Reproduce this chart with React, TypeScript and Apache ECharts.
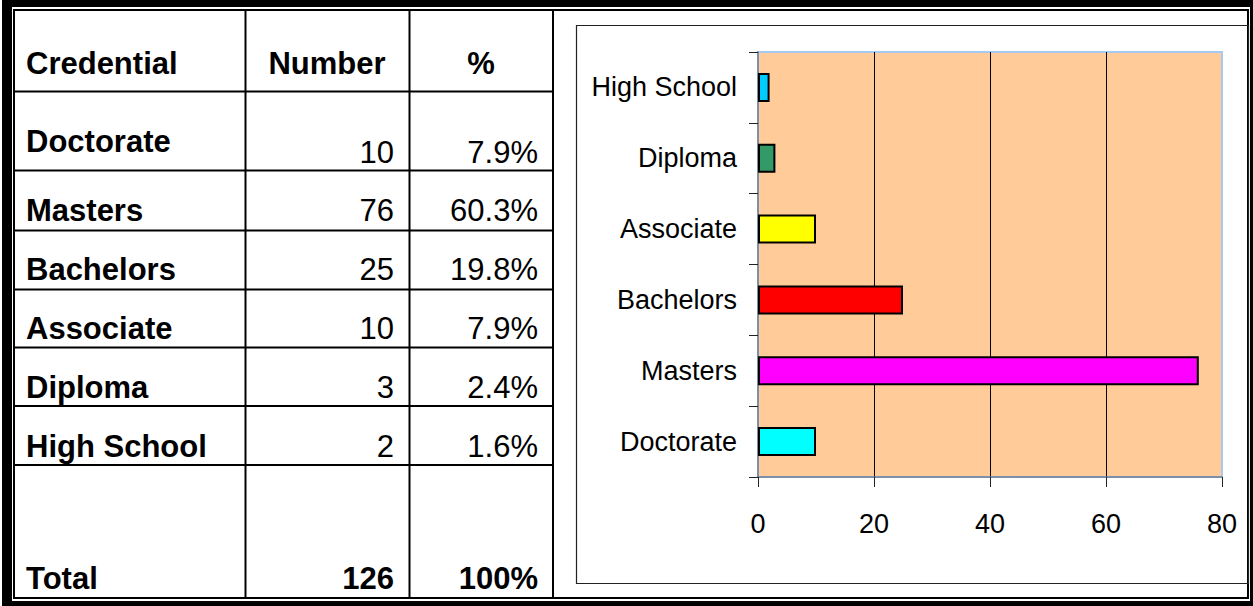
import React, { useEffect, useRef } from "react";
import * as echarts from "echarts";

// ---- data ----
const headers = ["Credential", "Number", "%"];
const credentials = ["Doctorate", "Masters", "Bachelors", "Associate", "Diploma", "High School"];
const counts = [10, 76, 25, 10, 3, 2];
const percents = ["7.9%", "60.3%", "19.8%", "7.9%", "2.4%", "1.6%"];
const totalRow = ["Total", "126", "100%"];
const valueAxisMin = 0;
const valueAxisMax = 80;
const valueAxisStep = 20;

// ---- styles ----
const barColors = ["#00FFFF", "#FF00FF", "#FF0000", "#FFFF00", "#339966", "#00CCFF"];
const TABLE_FONT = '"Liberation Sans", Arial, sans-serif';
const CHART_FONT = '"Liberation Sans Narrow", "Arial Narrow", "Liberation Sans", Arial, sans-serif';

function band(x: number, y: number, w: number, h: number, color = "#000") {
  return { type: "rect", silent: true, shape: { x, y, width: w, height: h }, style: { fill: color } };
}

function txt(text: string, x: number, y: number, align: string, bold: boolean) {
  return {
    type: "text",
    silent: true,
    x,
    y,
    style: {
      text,
      fill: "#000",
      font: `${bold ? "bold " : ""}31px ${TABLE_FONT}`,
      align,
      verticalAlign: "middle",
    },
  };
}

export default function App() {
  const ref = useRef<HTMLDivElement>(null);

  useEffect(() => {
    document.body.style.margin = "0";
    if (!ref.current) return;
    const chart = echarts.init(ref.current, undefined, { renderer: "svg" });

    const graphics: any[] = [];
    // outer thick frame
    graphics.push(band(2, 0, 1251, 7));
    graphics.push(band(2, 0, 10, 606));
    graphics.push(band(1250, 0, 3, 606));
    graphics.push(band(2, 601, 1251, 5));
    // inner thin frame
    graphics.push(band(13, 9, 1236, 2));
    graphics.push(band(13, 9, 2, 590));
    graphics.push(band(1247, 9, 2, 590));
    graphics.push(band(13, 597, 1236, 2));
    // table column lines
    [244.5, 408.5, 552].forEach((x) => graphics.push(band(x, 11, 2, 586)));
    // table row lines
    [90.5, 169.5, 229.5, 288.5, 346.5, 405, 464].forEach((y) => graphics.push(band(15, y, 538, 2)));

    // header
    graphics.push(txt(headers[0], 26, 63, "left", true));
    graphics.push(txt(headers[1], 327, 63, "center", true));
    graphics.push(txt(headers[2], 481, 63, "center", true));

    const labelY = [141, 210, 269, 328, 387, 446];
    const numY = [152, 210, 269, 328, 387, 446];
    credentials.forEach((c, i) => {
      graphics.push(txt(c, 26, labelY[i], "left", true));
      graphics.push(txt(String(counts[i]), 394, numY[i], "right", false));
      graphics.push(txt(percents[i], 538, numY[i], "right", false));
    });
    graphics.push(txt(totalRow[0], 26, 578, "left", true));
    graphics.push(txt(totalRow[1], 394, 578, "right", true));
    graphics.push(txt(totalRow[2], 538, 578, "right", true));

    // chart box
    graphics.push({
      type: "rect",
      silent: true,
      shape: { x: 576.5, y: 25.5, width: 672, height: 558 },
      style: { fill: null, stroke: "#222", lineWidth: 1.2 },
    });

    chart.setOption({
      animation: false,
      graphic: graphics,
      grid: {
        left: 758,
        top: 52,
        width: 464,
        height: 425,
        show: true,
        backgroundColor: "#FFCC99",
        borderColor: "#A6CAF0",
        borderWidth: 2,
      },
      xAxis: {
        type: "value",
        min: valueAxisMin,
        max: valueAxisMax,
        interval: valueAxisStep,
        axisLine: { show: true, lineStyle: { color: "#6E7B94", width: 1.5 } },
        axisTick: { show: true, length: 10, lineStyle: { color: "#222", width: 1 } },
        axisLabel: { color: "#000", fontSize: 27, fontFamily: CHART_FONT, margin: 33 },
        splitLine: {
          show: true,
          showMinLine: false,
          showMaxLine: false,
          lineStyle: { color: "#000", width: 1 },
        },
      },
      yAxis: {
        type: "category",
        data: credentials,
        axisLine: { show: true, lineStyle: { color: "#6E7B94", width: 1.5 } },
        axisTick: { show: true, length: 9, lineStyle: { color: "#222", width: 1 } },
        axisLabel: { color: "#000", fontSize: 27, fontFamily: CHART_FONT, margin: 21 },
        splitLine: { show: false },
      },
      series: [
        {
          type: "bar",
          barWidth: 29,
          data: counts.map((v, i) => ({ value: v, itemStyle: { color: barColors[i] } })),
          itemStyle: { borderColor: "#000", borderWidth: 2 },
        },
      ],
    });

    return () => chart.dispose();
  }, []);

  return <div ref={ref} style={{ width: 1253, height: 606 }} />;
}
